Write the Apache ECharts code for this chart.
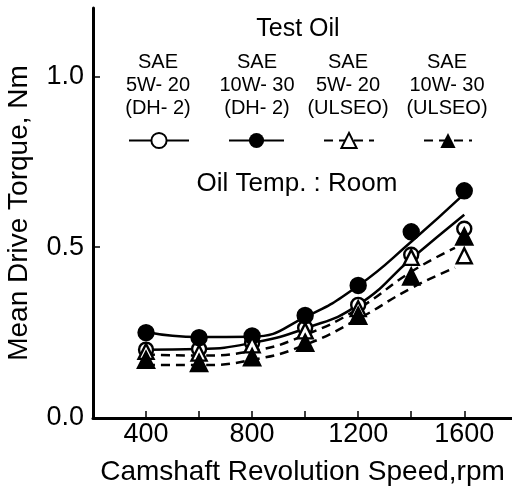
<!DOCTYPE html>
<html>
<head>
<meta charset="utf-8">
<script src="https://cdn.jsdelivr.net/npm/echarts@6/dist/echarts.min.js"></script>
<style>
html, body { margin: 0; padding: 0; background: #fff; }
#main { width: 512px; height: 490px; }
</style>
</head>
<body>
<div id="main"></div>
<script>
// measured points
var speeds = [400, 600, 800, 1000, 1200, 1400, 1600];
var torque5w20dh2 = [0.200, 0.202, 0.220, 0.264, 0.331, 0.478, 0.554];
var torque10w30dh2 = [0.250, 0.235, 0.240, 0.300, 0.388, 0.545, 0.665];
var torque5w20ulseo = [0.195, 0.190, 0.214, 0.255, 0.320, 0.470, 0.475];
var torque10w30ulseo = [0.170, 0.161, 0.178, 0.220, 0.299, 0.414, 0.531];

// fitted curves
var fitSpeeds = [400, 600, 800, 1000, 1200, 1400, 1600];
var fit5w20dh2 = [0.200, 0.202, 0.220, 0.262, 0.331, 0.466, 0.595];
var fit10w30dh2 = [0.252, 0.237, 0.238, 0.295, 0.387, 0.516, 0.656];
var dashSpeeds = [400, 600, 800, 1000, 1200, 1400, 1565];
var fit5w20ulseo = [0.186, 0.183, 0.196, 0.243, 0.320, 0.428, 0.498];
var fit10w30ulseo = [0.155, 0.155, 0.170, 0.214, 0.290, 0.380, 0.440];

var oilNames = ['5W-20 (DH-2)', '10W-30 (DH-2)', '5W-20 (ULSEO)', '10W-30 (ULSEO)'];
var oilLabels = ['SAE\n5W- 20\n(DH- 2)', 'SAE\n10W- 30\n(DH- 2)', 'SAE\n5W- 20\n(ULSEO)', 'SAE\n10W- 30\n(ULSEO)'];
var xTickLabels = [400, 800, 1200, 1600];
var xTickMarks = [400, 600, 800, 1000, 1200, 1400, 1600];
var yTickLabels = [0, 0.5, 1.0];
var yTickMarks = [0.5, 1.0];

var font = '"Liberation Sans", Arial, sans-serif';

function pairs(xs, ys) {
  return xs.map(function (x, i) { return [x, ys[i]]; });
}

var myChart = echarts.init(document.getElementById('main'));

var curves = [
  { name: oilNames[0], x: fitSpeeds, y: fit5w20dh2, symbol: 'emptyCircle', dash: 'solid' },
  { name: oilNames[1], x: fitSpeeds, y: fit10w30dh2, symbol: 'circle', dash: 'solid' },
  { name: oilNames[2], x: dashSpeeds, y: fit5w20ulseo, symbol: 'emptyTriangle', dash: [9, 6] },
  { name: oilNames[3], x: dashSpeeds, y: fit10w30ulseo, symbol: 'triangle', dash: [9, 6] }
];
var points = [
  { y: torque5w20dh2, symbol: 'circle', size: 14, fill: '#fff' },
  { y: torque10w30dh2, symbol: 'circle', size: 15, fill: '#000' },
  { y: torque5w20ulseo, symbol: 'triangle', size: 15, fill: '#fff' },
  { y: torque10w30ulseo, symbol: 'triangle', size: 16, fill: '#000' }
];

var series = [];
curves.forEach(function (c) {
  series.push({
    name: c.name,
    type: 'line',
    smooth: true,
    showSymbol: false,
    symbol: c.symbol,
    color: '#000',
    lineStyle: { color: '#000', width: 2.5, type: c.dash },
    itemStyle: { color: '#000' },
    data: pairs(c.x, c.y),
    z: 2
  });
});
points.forEach(function (p, i) {
  series.push({
    name: oilNames[i] + ' data',
    type: 'scatter',
    symbol: p.symbol,
    symbolSize: p.size,
    itemStyle: { color: p.fill, borderColor: '#000', borderWidth: 2.4, opacity: 1 },
    data: pairs(speeds, p.y),
    z: 3 + i
  });
});

var legendLeft = [128, 228, 323, 423];
var legendWidth = [60, 55, 50, 48];
var legends = oilNames.map(function (n, i) {
  return {
    data: [n],
    left: legendLeft[i],
    top: 131,
    padding: 0,
    itemWidth: legendWidth[i],
    itemHeight: 19,
    selectedMode: false,
    formatter: function () { return ''; }
  };
});

var labelX = [158, 257, 348, 447];
var graphics = [
  { type: 'text', style: { text: 'Test Oil', font: '25px ' + font, fill: '#000', x: 298, y: 29, textAlign: 'center', textVerticalAlign: 'middle' } },
  { type: 'text', style: { text: 'Oil Temp. : Room', font: '26px ' + font, fill: '#000', x: 297, y: 184, textAlign: 'center', textVerticalAlign: 'middle' } }
];
oilLabels.forEach(function (t, i) {
  graphics.push({
    type: 'text',
    style: { text: t, font: '20px ' + font, lineHeight: 23, fill: '#000', x: labelX[i], y: 85, textAlign: 'center', textVerticalAlign: 'middle' }
  });
});

var option = {
  backgroundColor: '#fff',
  animation: false,
  grid: { left: 93, right: 0, top: 8, bottom: 72, outerBoundsMode: 'none' },
  legend: legends,
  graphic: graphics,
  xAxis: {
    type: 'value',
    min: 200,
    max: 1780,
    interval: 200,
    name: 'Camshaft Revolution Speed,rpm',
    nameLocation: 'middle',
    nameGap: 40,
    nameTextStyle: { fontFamily: font, fontSize: 28, color: '#000' },
    axisLine: { onZero: false, lineStyle: { color: '#000', width: 3 } },
    axisTick: { inside: true, length: 7, lineStyle: { color: '#000', width: 1.5 }, customValues: xTickMarks },
    axisLabel: {
      fontFamily: font, fontSize: 27, color: '#000', margin: 3, customValues: xTickLabels,
      formatter: function (v) { return String(v); }
    },
    splitLine: { show: false }
  },
  yAxis: {
    type: 'value',
    min: 0,
    max: 1.2,
    interval: 0.5,
    name: 'Mean Drive Torque, Nm',
    nameLocation: 'middle',
    nameGap: 60,
    nameTextStyle: { fontFamily: font, fontSize: 28, color: '#000' },
    axisLine: { show: true, onZero: false, lineStyle: { color: '#000', width: 3 } },
    axisTick: { show: true, inside: true, length: 7, lineStyle: { color: '#000', width: 1.5 }, customValues: yTickMarks },
    axisLabel: {
      fontFamily: font, fontSize: 27, color: '#000', margin: 9, customValues: yTickLabels,
      formatter: function (v) { return v.toFixed(1); }
    },
    splitLine: { show: false }
  },
  series: series
};

option && myChart.setOption(option);
</script>
</body>
</html>
